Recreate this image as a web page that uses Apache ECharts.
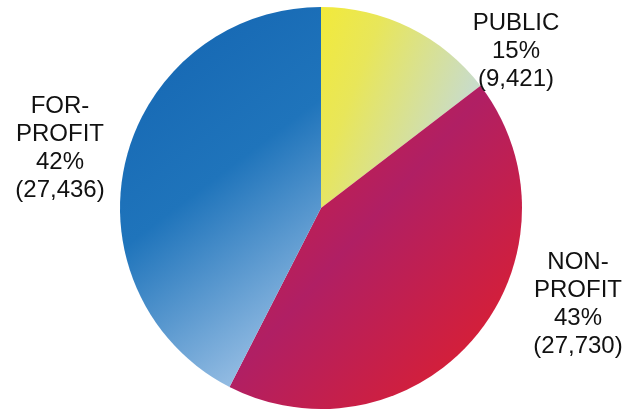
<!DOCTYPE html>
<html>
<head>
<meta charset="utf-8">
<script src="https://cdn.jsdelivr.net/npm/echarts@6/dist/echarts.min.js"></script>
<style>
  html, body { margin: 0; padding: 0; background: #fff; }
  #chart { width: 634px; height: 413px; }
</style>
</head>
<body>
<div id="chart"></div>
<script>
// sector names and counts
var names = ['PUBLIC', 'NON-PROFIT', 'FOR-PROFIT'];
var counts = [9421, 27730, 27436];

// where each label block sits (centre of the block)
var labelPos = [[516, 51], [578, 304], [60, 148]];

var fills = [
    new echarts.graphic.LinearGradient(0, 0, 1, 0.3, [
        { offset: 0, color: '#f2ea3a' },
        { offset: 0.35, color: '#e8e65a' },
        { offset: 1, color: '#c9dcc8' }
    ]),
    new echarts.graphic.LinearGradient(0, 0, 1, 0.8, [
        { offset: 0, color: '#dc1f30' },
        { offset: 0.5, color: '#b01f64' },
        { offset: 1, color: '#dc1f30' }
    ]),
    new echarts.graphic.LinearGradient(0, 0.2, 1, 0.9, [
        { offset: 0, color: '#1769b4' },
        { offset: 0.4, color: '#1f74bb' },
        { offset: 1, color: '#a4c6e8' }
    ])
];

var chartDom = echarts.init(document.getElementById('chart'));
chartDom.setOption({
    animation: false,
    series: [{
        type: 'pie',
        center: [321, 208],
        radius: 201,
        startAngle: 90,
        clockwise: true,
        avoidLabelOverlap: false,
        labelLine: { show: false },
        label: {
            show: true,
            position: 'outside',
            color: '#111',
            fontFamily: 'Liberation Sans, Arial, sans-serif',
            fontSize: 24,
            lineHeight: 28,
            align: 'center',
            formatter: function (p) {
                var n = p.name.replace('-', '-\n');
                return n + '\n' + Math.round(p.percent) + '%\n(' + echarts.format.addCommas(p.value) + ')';
            }
        },
        labelLayout: function (p) {
            var pos = labelPos[p.dataIndex];
            return { x: pos[0], y: pos[1], align: 'center', verticalAlign: 'middle' };
        },
        emphasis: { disabled: true },
        data: names.map(function (n, i) {
            return { name: n, value: counts[i], itemStyle: { color: fills[i] } };
        })
    }]
});
</script>
</body>
</html>
